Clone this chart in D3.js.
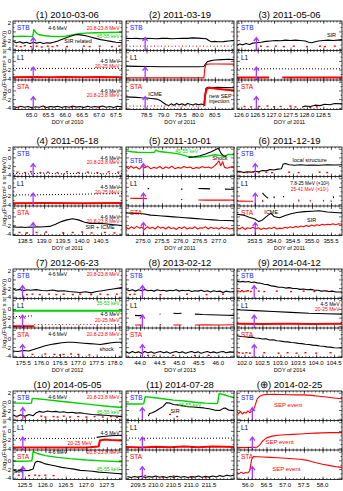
<!DOCTYPE html>
<html>
<head>
<meta charset="utf-8">
<script src="https://cdn.jsdelivr.net/npm/d3@7"></script>
<style>
  body { margin: 0; background: #fff; }
  svg { display: block; font-family: "Liberation Sans", Arial, sans-serif; }
</style>
</head>
<body>
<svg id="chart" width="343" height="491"></svg>
<script>
// ---- panel meta ----
const dates   = ['(1) 2010-03-06', '(2) 2011-03-19', '(3) 2011-05-06', '(4) 2011-05-18', '(5) 2011-10-01', '(6) 2011-12-19',
                 '(7) 2012-06-23', '(8) 2013-02-12', '(9) 2014-04-12', '(10) 2014-05-05', '(11) 2014-07-28', '(\u2295) 2014-02-25'];
const years   = [2010, 2011, 2011, 2011, 2011, 2011, 2012, 2013, 2014, 2014, 2014, 2014];
const xDomains = [[64.45, 67.68], [77.9, 81.06], [125.87, 129.07], [138.18, 141.05], [274.55, 277.4], [353.03, 355.79],
                  [175.22, 178.19], [43.64, 46.4], [101.79, 104.72], [125.21, 127.87], [209.16, 212.2], [55.71, 58.52]];
const xTicks = [
  [65.0, 65.5, 66.0, 66.5, 67.0, 67.5], [78.5, 79.0, 79.5, 80.0, 80.5], [126.0, 126.5, 127.0, 127.5, 128.0, 128.5],
  [138.5, 139.0, 139.5, 140.0, 140.5], [275.0, 275.5, 276.0, 276.5, 277.0], [353.5, 354.0, 354.5, 355.0, 355.5],
  [175.5, 176.0, 176.5, 177.0, 177.5, 178.0], [44.0, 44.5, 45.0, 45.5, 46.0], [102.0, 102.5, 103.0, 103.5, 104.0, 104.5],
  [125.5, 126.0, 126.5, 127.0, 127.5], [209.5, 210.0, 210.5, 211.0, 211.5], [56.0, 56.5, 57.0, 57.5, 58.0]];
const evTimes = [65.05, 78.46, 126.46, 138.71, 275.01, 353.51, 175.48, 44.06, 102.27, 125.45, 209.62, 56.12];
const yTicksStb = [2, 0, -2, -4];
const yTicksOther = [0, -2, -4];

// ---- (1) 2010-03-06 ----
const p1StbG = [[64.45,-1.2],[64.7,-1.1],[64.9,-1.15],[65.03,-1.2],[65.07,0.4],[65.12,-0.2],[65.2,-0.7],[65.35,-0.95],[65.55,-1.1],[65.8,-1.2],[66.0,-1.1],[66.2,-0.8],[66.4,-0.55],[66.6,-0.4],[66.9,-0.3],[67.2,-0.25],[67.68,-0.2]];
const p1StbK = [[64.46,-2.3],[64.55,-2.6],[64.65,-2.4],[64.75,-2.7],[64.85,-2.5],[64.95,-2.8],[65.05,-2.5],[65.15,-2.7],[65.25,-2.5],[65.35,-2.8],[65.45,-2.6],[65.55,-2.7],[65.65,-2.5],[65.75,-2.3],[65.85,-2.0],[65.95,-1.7],[66.05,-1.4],[66.15,-1.1],[66.25,-0.9],[66.35,-0.7],[66.45,-0.8],[66.6,-1.0],[66.75,-1.3],[66.9,-1.6],[67.05,-1.9],[67.2,-2.1],[67.35,-2.3],[67.5,-2.5],[67.68,-2.6]];
const p1StbR = [[64.55,-3.4],[64.68,-3.5],[64.8,-3.3],[64.98,-3.5],[65.15,-3.4],[65.3,-3.6],[65.48,-3.4],[65.62,-3.5],[65.76,-3.3],[66.05,-3.5],[66.55,-3.4],[66.72,-3.5],[67.02,-3.4],[67.38,-3.5],[67.6,-3.4]];
const p1L1K  = [[64.45,-1.75],[65.0,-1.7],[65.5,-1.75],[66.0,-1.7],[66.5,-1.75],[67.0,-1.7],[67.68,-1.75]];
const p1L1R  = [[64.45,-3.75],[65.0,-3.7],[65.5,-3.75],[66.0,-3.7],[66.5,-3.75],[67.0,-3.7],[67.68,-3.75]];
const p1StaK = [[64.46,-3.7],[64.57,-3.95],[64.68,-3.65],[64.79,-3.9],[64.9,-3.7],[65.01,-4.0],[65.12,-3.75],[65.23,-3.9],[65.34,-3.6],[65.45,-3.95],[65.56,-3.7],[65.67,-3.85],[65.78,-3.65],[65.89,-3.95],[66.0,-3.7],[66.11,-3.9],[66.22,-3.6],[66.33,-3.85],[66.44,-3.7],[66.55,-3.95],[66.66,-3.65],[66.77,-3.9],[66.88,-3.7],[66.99,-3.85],[67.1,-3.6],[67.21,-3.9],[67.32,-3.7],[67.43,-3.95],[67.54,-3.65],[67.68,-3.8]];
const p1StaR = [[64.6,-3.95],[65.4,-4.0],[66.2,-3.95],[67.0,-4.0]];

// ---- (2) 2011-03-19 ----
const p2StbK = [[77.9,-1.6],[78.05,-1.65],[78.2,-1.6],[78.35,-1.7],[78.5,-1.6],[78.65,-1.65],[78.8,-1.7],[78.95,-1.6],[79.1,-1.6],[79.25,-1.7],[79.4,-1.65],[79.55,-1.6],[79.7,-1.6],[79.85,-1.5],[80.0,-1.55],[80.1,-1.6],[80.25,-1.7],[80.32,-2.1],[80.4,-2.4],[80.5,-2.3],[80.6,-2.4],[80.75,-2.35],[80.9,-2.2],[81.06,-2.1]];
const p2StbRd = [[77.9,-3.4],[81.06,-3.4]];
const p2L1K  = [[77.9,-1.2],[78.2,-1.25],[78.5,-1.3],[79.0,-1.35],[79.5,-1.35],[80.0,-1.35],[80.18,-1.3],[80.22,-0.8],[80.28,-0.2],[80.35,0.0],[80.5,0.2],[80.7,0.3],[80.9,0.4],[81.06,0.3]];
const p2L1R  = [[77.9,-3.9],[78.5,-3.9],[79.5,-3.9],[80.18,-3.9],[80.2,-2.0],[80.24,-0.8],[80.35,-0.7],[80.6,-0.7],[81.06,-0.75]];
const p2StaK = [[77.9,-1.5],[78.05,-1.55],[78.2,-1.6],[78.35,-1.7],[78.5,-1.75],[78.65,-1.85],[78.8,-2.0],[78.9,-2.3],[79.0,-2.9],[79.08,-3.3],[79.15,-3.5],[79.22,-3.1],[79.3,-3.4],[79.38,-3.0],[79.46,-3.3],[79.54,-3.1],[79.62,-3.4],[79.7,-3.0],[79.78,-3.2],[79.86,-3.35],[79.94,-3.1],[80.02,-3.3],[80.1,-3.15],[80.18,-3.3],[80.21,-1.0],[80.24,0.5],[80.3,0.7],[80.45,0.65],[80.6,0.7],[80.8,0.65],[81.06,0.6]];
const p2StaRd = [[77.9,-3.6],[80.19,-3.6]];
const p2StaR = [[80.19,-3.6],[80.22,-1.0],[80.26,0.3],[80.32,0.6],[80.45,0.5],[80.6,0.35],[80.75,0.2],[80.9,0.1],[81.06,0.0]];

// ---- (3) 2011-05-06 ----
const p3StbK = [[125.87,-3.2],[125.95,-2.9],[126.05,-3.1],[126.15,-2.8],[126.25,-3.0],[126.35,-2.7],[126.45,-2.6],[126.6,-2.5],[126.75,-2.3],[126.9,-2.2],[127.05,-2.1],[127.2,-2.15],[127.35,-2.0],[127.5,-2.1],[127.65,-2.0],[127.8,-2.1],[127.95,-2.2],[128.05,-2.5],[128.15,-2.6],[128.25,-2.4],[128.35,-2.2],[128.5,-2.1],[128.65,-2.0],[128.8,-2.1],[128.95,-2.0],[129.07,-1.9]];
const p3StbR = [[126.6,-3.4],[126.8,-3.5],[127.05,-3.4],[127.3,-3.5],[127.6,-3.4],[128.0,-3.5],[128.4,-3.4],[128.55,-3.5],[128.85,-3.4]];
const p3L1K  = [[125.87,-1.8],[126.5,-1.85],[127.0,-1.8],[127.5,-1.85],[128.0,-1.8],[128.5,-1.85],[129.07,-1.8]];
const p3L1R  = [[125.87,-3.85],[126.3,-3.85],[126.85,-3.85],null,[127.25,-3.85],[127.8,-3.85],[128.4,-3.85],[129.07,-3.85]];
const p3StaK = [[127.85,-3.9],[127.95,-3.6],[128.1,-3.7],[128.25,-3.4],[128.4,-3.5],[128.55,-3.2],[128.7,-3.3],[128.85,-3.0],[129.07,-3.1]];
const p3StaR = [[126.1,-3.7],[126.3,-3.8],[126.55,-3.7],[126.8,-3.6],[127.0,-3.8],[127.2,-3.7],[127.5,-3.6],[127.65,-3.8],[128.1,-3.9],[128.3,-3.8]];

// ---- (4) 2011-05-18 ----
const p4StbK = [[138.18,-3.7],[138.6,-3.8],[139.0,-3.6],[139.4,-3.8],[139.8,-3.7],[140.2,-3.6],[140.6,-3.8],[141.05,-3.7]];
const p4StbR = [[138.3,-3.4],[138.5,-3.5],[138.65,-3.3],[138.9,-3.5],[139.1,-3.4],[139.35,-3.5],[139.6,-3.3],[139.9,-3.5],[140.15,-3.4],[140.4,-3.5],[140.7,-3.3],[140.95,-3.4]];
const p4L1K  = [[138.18,-1.85],[139.0,-1.8],[139.8,-1.7],[140.5,-1.6],[141.05,-1.55]];
const p4L1R  = [[138.18,-3.75],[139.0,-3.7],[140.0,-3.75],[141.05,-3.7]];
const p4StaK = [[138.18,-2.4],[138.3,-2.5],[138.4,-2.45],[138.5,-2.55],[138.6,-2.45],[138.7,-2.5],[138.8,-2.4],[138.9,-2.45],[139.0,-2.4],[139.15,-2.3],[139.3,-1.8],[139.45,-1.2],[139.6,-0.8],[139.75,-0.55],[139.9,-0.8],[140.05,-1.3],[140.2,-1.6],[140.4,-1.6],[140.6,-1.7],[140.8,-1.9],[141.05,-2.1]];
const p4StaR = [[138.35,-3.7],[138.55,-3.8],[138.8,-3.7],[139.05,-3.6],[139.5,-3.8],[139.75,-3.7],[140.0,-3.6],[140.25,-3.8],[140.6,-3.7],[140.85,-3.8]];

// ---- (5) 2011-10-01 ----
const p5StbG = [[274.55,1.5],[274.7,1.3],[274.85,1.2],[275.0,1.15],[275.2,1.1],[275.3,1.2],[275.34,1.7],[275.42,1.35],[275.6,1.2],[275.8,1.0],[276.0,0.7],[276.15,0.3],[276.3,0.05],[276.5,0.1],[276.7,0.3],[276.9,0.6],[277.05,0.4],[277.15,0.2],[277.25,0.7],[277.4,0.6]];
const p5StbK = [[276.2,0.0],[276.35,0.15],[276.5,0.4],[276.65,0.8],[276.8,1.3],[276.92,1.8],[276.98,2.1],[277.02,1.6],[277.06,0.9],[277.12,0.4],[277.2,0.3]];
const p5StbR = [[274.55,-2.2],[274.62,-2.6],[274.68,-2.0],[274.75,-2.5],[274.82,-2.2],[274.9,-2.7],[274.97,-2.1],[275.05,-2.4],[275.12,-2.0],[275.2,-2.6],[275.28,-2.3],[275.36,-2.5],[275.44,-2.1],[275.52,-2.6],[275.6,-2.2],[275.68,-2.5],[275.76,-2.0],[275.84,-2.6],[275.92,-2.3],[276.0,-2.5],[276.08,-2.1],[276.16,-2.4],[276.24,-2.2],[276.32,-2.6],[276.4,-2.3],[276.48,-2.5],[276.56,-2.1],[276.64,-2.4],[276.72,-2.2],[276.8,-2.5],[276.88,-2.0],[276.95,-1.4],[277.0,-0.8],[277.05,-1.9],[277.1,-1.0],[277.15,-2.3],[277.22,-2.5],[277.3,-2.2],[277.4,-2.4]];
const p5L1K  = [[275.12,-0.4],[275.16,-0.4],null,[276.0,-0.5],[276.04,-0.5],null,[276.46,-0.35],[276.6,-0.4],[276.77,-0.45],null,[277.16,-0.5],[277.3,-0.55],[277.4,-0.5]];
const p5L1R  = [[274.66,-2.6],[274.8,-2.65],[274.95,-2.6],[275.1,-2.7],null,[276.0,-2.9],[276.04,-2.9],null,[276.46,-3.0],[276.7,-3.05],[276.95,-3.0],[277.2,-3.05],[277.4,-3.0]];
const p5StaK = [[274.55,0.8],[274.7,0.75],[274.85,0.7],[275.0,0.6],[275.2,0.3],[275.35,0.2],[275.5,0.1],[275.65,0.0],[275.8,-0.1],[275.95,-0.2],[276.1,-0.3],[276.25,-0.4],[276.4,-0.5],[276.55,-0.6],[276.7,-0.7],[276.85,-0.8],[277.0,-0.9],[277.2,-0.95],[277.4,-1.0]];
const p5StaR = [[274.55,-2.5],[274.62,-2.9],[274.69,-2.4],[274.76,-2.8],[274.83,-2.3],[274.9,-2.7],[274.97,-2.5],[275.04,-3.0],[275.11,-2.4],[275.18,-2.8],[275.25,-2.5],[275.32,-2.9],[275.39,-2.3],[275.46,-2.7],[275.53,-2.5],[275.6,-2.9],[275.67,-2.4],[275.74,-2.8],[275.81,-2.6],[275.88,-3.0],[275.95,-2.5],[276.02,-2.8],[276.09,-2.4],[276.16,-2.9],[276.23,-2.6],[276.3,-2.8],[276.37,-2.4],[276.44,-2.9],[276.51,-2.6],[276.58,-2.7],[276.65,-2.4],[276.72,-2.9],[276.79,-2.5],[276.86,-2.8],[276.93,-2.6],[277.0,-2.9],[277.07,-2.5],[277.14,-2.8],[277.21,-2.6],[277.28,-2.9],[277.4,-2.7]];

// ---- (6) 2011-12-19 ----
const p6StbK = [[353.03,-3.4],[353.1,-3.2],[353.2,-3.5],[353.3,-3.3],[353.4,-3.4],[353.5,-3.2],[353.6,-3.3],[353.7,-3.0],[353.8,-3.1],[353.9,-2.8],[354.0,-2.9],[354.1,-2.7],[354.2,-2.6],[354.24,-1.6],[354.3,-1.4],[354.4,-1.7],[354.55,-1.8],[354.7,-1.7],[354.85,-1.8],[355.0,-1.75],[355.2,-1.8],[355.4,-1.7],[355.6,-1.75],[355.79,-1.7]];
const p6StbR = [[353.1,-3.4],[353.3,-3.5],[353.45,-3.4],[353.6,-3.5],[353.8,-3.4],[353.95,-3.5],[354.4,-3.4],[354.65,-3.5],[355.2,-3.4],[355.4,-3.5]];
const p6L1K  = [[353.7,-1.4],[353.75,-1.9],[353.8,-2.3],[353.85,-2.6],null,[354.0,-2.2],[354.01,-2.6],null,[354.25,-2.1],[354.26,-2.4],null,[355.56,-2.2],[355.57,-2.6]];
const p6L1R  = [[353.03,-3.3],[353.15,-3.25],[353.3,-3.3],[353.45,-3.3],null,[353.7,-3.0],[353.71,-3.5],null,[354.65,-2.9],[354.66,-3.4],null,[354.95,-3.0],[354.96,-3.4],null,[355.3,-3.0],[355.31,-3.4],null,[355.5,-3.1],[355.51,-3.5]];
const p6StaK = [[353.03,0.5],[353.2,0.3],[353.35,-0.2],[353.5,-0.6],[353.6,-1.2],[353.7,-0.8],[353.85,0.3],[353.93,0.7],[354.0,0.0],[354.15,-0.3],[354.3,0.2],[354.45,0.6],[354.6,0.9],[354.8,1.1],[355.0,1.2],[355.2,1.3],[355.4,1.0],[355.6,0.9],[355.79,0.8]];
const p6StaR = [[353.03,-2.6],[353.1,-2.9],[353.17,-2.5],[353.24,-3.0],[353.31,-2.6],[353.38,-2.8],[353.45,-2.5],[353.52,-2.9],[353.59,-2.6],[353.66,-3.0],[353.73,-2.7],[353.8,-2.9],[353.87,-2.6],[353.94,-2.8],[354.01,-2.5],[354.08,-2.9],[354.15,-2.7],[354.22,-2.8],[354.29,-2.5],[354.36,-2.7],[354.43,-2.4],[354.5,-2.6],[354.57,-2.3],[354.64,-2.5],[354.71,-2.2],[354.78,-2.4],[354.85,-2.1],[354.92,-2.3],[354.99,-2.0],[355.06,-2.2],[355.13,-1.9],[355.2,-2.1],[355.27,-1.8],[355.34,-2.0],[355.41,-1.8],[355.48,-1.9],[355.55,-1.7],[355.62,-1.9],[355.7,-1.7],[355.79,-1.8]];

// ---- (7) 2012-06-23 ----
const p7StbK = [[175.22,-2.2],[175.3,-2.5],[175.4,-2.3],[175.5,-2.6],[175.6,-2.4],[175.7,-2.5],[175.85,-2.35],[176.0,-2.55],[176.15,-2.6],[176.3,-2.45],[176.45,-2.7],[176.6,-2.6],[176.75,-2.8],[176.9,-2.9],[177.05,-3.0],[177.2,-2.85],[177.35,-3.1],[177.5,-2.8],[177.65,-2.6],[177.8,-2.4],[177.95,-2.2],[178.1,-2.0],[178.19,-1.9]];
const p7StbR = [[175.6,-3.5],[175.75,-3.4],[175.95,-3.5],[176.2,-3.4],[176.4,-3.5],[176.6,-3.4],[176.85,-3.5],[177.05,-3.4],[177.35,-3.5],[177.6,-3.4],[177.8,-3.5],[178.05,-3.4]];
const p7L1G  = [[175.22,-0.4],[175.7,-0.45],[176.2,-0.4],[176.7,-0.45],[177.2,-0.4],[177.7,-0.45],[178.19,-0.4]];
const p7L1K  = [[175.22,-1.8],[175.5,-1.7],[175.78,-1.6]];
const p7L1R  = [[175.22,-4.0],[175.5,-4.0],[175.8,-4.0]];
const p7L1Rd = [[175.8,-3.6],[176.5,-3.6],[177.2,-3.6],[178.19,-3.6]];
const p7StaK = [[175.22,-2.9],[175.35,-3.0],[175.5,-2.8],[175.65,-2.9],[175.8,-2.5],[175.95,-2.1],[176.1,-1.7],[176.25,-1.4],[176.4,-1.2],[176.55,-1.0],[176.7,-0.9],[176.85,-0.9],[177.0,-1.0],[177.15,-1.1],[177.3,-1.2],[177.45,-1.3],[177.6,-1.4],[177.75,-1.2],[177.9,-1.0],[178.05,-0.9],[178.19,-0.9]];
const p7StaR = [[175.75,-3.7],[176.1,-3.6],[176.35,-3.7],[176.5,-3.8],[176.6,-3.7],[176.8,-3.6],[177.0,-3.7],[177.3,-3.8]];

// ---- (8) 2013-02-12 ----
const p8StbK = [[43.64,-2.3],[43.72,-2.6],[43.8,-2.4],[43.88,-2.7],[43.96,-2.4],[44.04,-2.6],[44.12,-2.3],[44.2,-2.6],[44.28,-2.5],[44.36,-2.7],[44.44,-2.4],[44.52,-2.6],[44.6,-2.5],[44.68,-2.7],[44.76,-2.5],[44.84,-2.6],[44.92,-2.4],[45.0,-2.7],[45.08,-2.5],[45.16,-2.6],[45.24,-2.5],[45.32,-2.8],[45.4,-2.6],[45.48,-2.7],[45.56,-2.5],[45.64,-2.8],[45.72,-2.6],[45.8,-2.9],[45.88,-2.6],[45.96,-2.8],[46.04,-2.7],[46.12,-3.0],[46.2,-2.7],[46.3,-2.9],[46.4,-2.8]];
const p8StbR = [[43.74,-3.5],[43.86,-3.4],[44.52,-3.5],[45.2,-3.4],[45.7,-3.5],[46.12,-3.4]];
const p8L1K  = [[43.87,-1.5],[43.95,-1.55],[44.08,-1.5],null,[44.5,-1.2],[44.52,-1.25],null,[44.85,-1.0],[44.95,-1.05],[45.06,-1.0],null,[45.4,-1.2],[45.6,-1.3],[45.8,-1.35],[46.0,-1.4],[46.2,-1.45],[46.4,-1.5]];
const p8L1R  = [[43.87,-3.7],[44.08,-3.7],null,[44.5,-3.6],[44.53,-3.6],null,[44.85,-3.7],[45.06,-3.7],null,[45.4,-3.7],[45.7,-3.65],[46.0,-3.7],[46.4,-3.65]];
const p8StaK = [[43.64,-3.1],[43.72,-3.4],[43.8,-3.0],[43.88,-3.3],[43.96,-3.1],[44.04,-3.4],[44.12,-3.0],[44.2,-3.3],[44.28,-3.1],[44.36,-3.4],[44.44,-3.2],[44.52,-3.0],[44.6,-3.3],[44.68,-3.1],[44.76,-3.4],[44.84,-3.2],[44.92,-3.0],[45.0,-3.3],[45.08,-3.1],[45.16,-3.4],[45.24,-3.2],[45.32,-3.0],[45.4,-3.3],[45.48,-3.1],[45.56,-3.4],[45.64,-3.2],[45.72,-3.0],[45.8,-3.3],[45.88,-3.1],[45.96,-3.35],[46.04,-3.15],[46.12,-3.0],[46.2,-3.3],[46.3,-3.1],[46.4,-3.2]];
const p8StaR = [[44.2,-3.9],[44.35,-3.95],[44.85,-3.9],[45.4,-3.95],[45.75,-3.9]];

// ---- (9) 2014-04-12 ----
const p9StbK = [[101.79,-0.4],[101.87,-0.6],[101.95,-0.45],[102.03,-0.6],[102.11,-0.5],[102.19,-0.7],[102.27,-0.6],[102.35,-0.8],[102.45,-0.9],[102.55,-1.1],[102.65,-1.2],[102.75,-1.5],[102.85,-1.6],[102.95,-1.8],[103.05,-1.8],[103.15,-2.0],[103.25,-1.9],[103.35,-2.1],[103.45,-2.1],[103.55,-2.3],[103.65,-2.2],[103.75,-2.4],[103.85,-2.3],[103.95,-2.5],[104.05,-2.5],[104.15,-2.7],[104.25,-2.6],[104.35,-2.8],[104.45,-2.7],[104.55,-2.9],[104.72,-2.9]];
const p9StbR = [[101.82,-2.7],[101.88,-2.8],[101.93,-2.6],[101.98,-2.8],[102.05,-2.7],[102.1,-2.6],[102.18,-2.8],[102.4,-2.7],[102.55,-2.8],[102.9,-2.7],[103.3,-2.8],[103.65,-2.7],[103.95,-2.8],[104.3,-2.7]];
const p9L1K  = [[101.79,-0.2],[102.3,-0.4],[102.8,-0.6],[103.3,-0.8],[103.8,-1.0],[104.3,-1.1],[104.72,-1.2]];
const p9L1R  = [[101.79,-3.4],[102.5,-3.45],[103.2,-3.4],[103.9,-3.45],[104.72,-3.4]];
const p9StaK = [[101.79,0.6],[101.9,0.45],[102.0,0.4],[102.1,0.25],[102.2,0.3],[102.3,0.1],[102.4,0.05],[102.5,-0.15],[102.6,-0.1],[102.7,-0.35],[102.8,-0.3],[102.9,-0.55],[103.0,-0.6],[103.1,-0.75],[103.2,-0.8],[103.3,-0.95],[103.4,-1.0],[103.5,-1.15],[103.6,-1.2],[103.7,-1.35],[103.8,-1.4],[103.9,-1.55],[104.0,-1.6],[104.1,-1.75],[104.2,-1.8],[104.3,-1.95],[104.4,-2.0],[104.5,-2.15],[104.72,-2.2]];
const p9StaR = [[101.85,-3.3],[101.95,-3.4],[102.05,-3.3],[102.15,-3.4],[102.55,-3.3],[102.95,-3.4],[103.2,-3.3],[103.45,-3.4],[103.7,-3.3],[104.0,-3.4],[104.4,-3.3]];

// ---- (10) 2014-05-05 ----
const p10StbG = [[125.21,-0.4],[125.4,-0.4],[125.6,-0.45],[125.66,-0.4],[125.68,0.7],[125.8,0.6],[126.0,0.4],[126.3,0.1],[126.6,-0.2],[126.9,-0.5],[127.2,-0.8],[127.5,-1.1],[127.87,-1.4]];
const p10StbK = [[125.22,-3.2],[125.3,-3.5],[125.4,-3.1],[125.5,-3.4],[125.6,-3.0],[125.7,-3.3],[125.78,-2.6],[125.85,-2.3],[125.95,-2.5],[126.05,-2.2],[126.15,-2.4],[126.25,-2.3],[126.35,-2.5],[126.45,-2.4],[126.55,-2.6],[126.65,-2.5],[126.75,-2.7],[126.85,-2.6],[126.95,-2.8],[127.05,-2.9],[127.15,-3.0],[127.3,-3.1],[127.45,-3.2],[127.6,-3.3],[127.75,-3.4],[127.87,-3.5]];
const p10StbR = [[125.3,-3.5],[125.5,-3.6],[125.9,-3.4],[126.0,-3.6],[126.2,-3.5],[126.3,-3.6],[126.45,-3.4],[126.6,-3.6],[126.8,-3.5],[127.0,-3.6],[127.2,-3.5],[127.4,-3.6],[127.6,-3.5],[127.75,-3.7]];
const p10L1K  = [[125.21,-1.75],[125.8,-1.7],[126.4,-1.75],[127.0,-1.7],[127.25,-1.65]];
const p10L1K2 = [[127.25,-1.5],[127.4,-1.3],[127.6,-1.1],[127.87,-1.0]];
const p10L1R  = [[125.21,-3.8],[125.8,-3.85],[126.4,-3.8],[127.0,-3.85],[127.3,-3.6],[127.33,-2.2],[127.45,-2.0],[127.6,-2.1],[127.87,-2.2]];
const p10StaG = [[125.21,-0.2],[125.4,-0.2],[125.6,-0.15],[125.67,-0.1],[125.7,2.0],[125.8,1.6],[126.0,1.1],[126.3,0.7],[126.6,0.4],[127.0,0.1],[127.4,-0.1],[127.87,-0.3]];
const p10StaK = [[125.22,-2.3],[125.3,-2.5],[125.4,-2.2],[125.5,-2.4],[125.6,-2.3],[125.7,-2.0],[125.75,-0.5],[125.8,-0.2],[125.9,-0.4],[126.0,-0.8],[126.1,-1.0],[126.25,-1.3],[126.4,-1.6],[126.55,-1.8],[126.7,-2.0],[126.85,-2.3],[127.0,-2.4],[127.15,-2.5],[127.3,-2.7],[127.45,-2.8],[127.6,-2.9],[127.75,-3.0],[127.87,-3.1]];
const p10StaR = [[125.35,-3.4],[125.6,-3.5],[125.75,-3.4],[125.85,-3.5],[126.0,-3.4],[126.2,-3.5]];

// ---- (11) 2014-07-28 ----
const p11StbG = [[209.16,-0.6],[209.4,-0.6],[209.6,-0.6],[209.66,-0.5],[209.7,1.1],[209.9,0.9],[210.2,0.6],[210.5,0.3],[210.8,0.1],[211.1,-0.2],[211.4,-0.4],[211.7,-0.5],[211.74,-0.4],[211.78,1.8],[211.9,1.6],[212.05,1.2],[212.2,0.9]];
const p11StbK = [[209.79,-3.4],[209.82,-2.8],[209.9,-2.6],[210.0,-2.2],[210.1,-1.7],[210.2,-1.2],[210.3,-0.3],[210.4,-0.4],[210.5,-0.7],[210.6,-0.8],[210.75,-1.0],[210.9,-1.2],[211.05,-1.3],[211.2,-1.4],[211.35,-1.5],[211.5,-1.7],[211.65,-2.0],[211.8,-2.1],[211.9,-1.6],[211.95,-1.5],[212.05,-2.0],[212.2,-2.1]];
const p11StbR = [[210.4,-3.0],[210.6,-3.5]];
const p11L1K  = [[209.16,-1.65],[209.8,-1.7],[210.5,-1.65],[211.2,-1.7],[212.2,-1.65]];
const p11L1R  = [[209.16,-3.7],[209.6,-3.8],[210.0,-3.65],[210.4,-3.75],[210.8,-3.6],[211.2,-3.75],[211.6,-3.6],[212.2,-3.7]];
const p11StaK = [[209.2,-3.7],[209.3,-3.95],[209.4,-3.7],[209.5,-3.9],[209.6,-3.65],[209.7,-3.95],[209.8,-3.7],[209.9,-3.85],[210.0,-3.6],[210.1,-3.9],[210.2,-3.7],[210.3,-3.95],[210.4,-3.7],[210.5,-3.85],[210.6,-3.65],[210.7,-3.9],[210.8,-3.7],[210.9,-3.95],[211.0,-3.7],[211.1,-3.85],[211.2,-3.6],[211.3,-3.9],[211.4,-3.65],[211.5,-3.85],[211.6,-3.6],[211.7,-3.8],[211.8,-3.5],[211.9,-3.7],[212.0,-3.4],[212.1,-3.6],[212.2,-3.4]];
const p11StaR = [[209.5,-3.9],[209.7,-3.5],[210.2,-3.95],[210.5,-3.6],[211.0,-3.9],[211.4,-3.95]];

// ---- (12) 2014-02-25 ----
const p12StbR = [[55.71,-2.4],[55.76,-2.8],[55.8,-2.3],[55.85,-2.9],[55.9,-2.5],[55.95,-2.7],[56.0,-2.2],[56.05,-2.6],[56.1,-2.3],[56.15,-2.0],[56.2,-0.8],[56.25,0.6],[56.32,1.2],[56.4,1.5],[56.5,1.6],[56.7,1.65],[56.9,1.6],[57.1,1.55],[57.3,1.5],[57.5,1.5],[57.7,1.4],[57.9,1.2],[58.1,1.0],[58.3,0.8],[58.52,0.6]];
const p12L1R  = [[55.71,-3.8],[55.9,-3.85],[56.1,-3.8],[56.25,-3.75],[56.32,-3.2],[56.4,-2.3],[56.5,-1.6],[56.65,-1.2],[56.8,-1.0],[57.0,-0.9],[57.2,-0.8],[57.4,-0.7],[57.6,-0.6],[57.8,-0.5],[58.0,-0.45],[58.2,-0.4],[58.52,-0.4]];
const p12StaR = [[55.71,-2.8],[55.76,-3.1],[55.82,-2.7],[55.88,-3.0],[55.94,-2.8],[56.0,-2.9],[56.05,-2.4],[56.1,0.2],[56.15,0.9],[56.25,0.85],[56.4,0.8],[56.6,0.7],[56.8,0.6],[57.0,0.5],[57.2,0.4],[57.4,0.25],[57.6,0.0],[57.8,-0.5],[58.0,-0.9],[58.2,-1.2],[58.4,-1.5],[58.52,-1.6]];

// ---- style / layout ----
const RED = '#ff0000', GRN = '#00d000', BLU = '#1a1aff', PUR = '#a33cff';
const STY = {
  k:  { c: '#000', w: 1.1 },
  kd: { c: '#000', w: 1, dash: '1,2' },
  r:  { c: RED, w: 1.1 },
  rt: { c: RED, w: 2 },
  rd: { c: RED, w: 1, dash: '1,2.5' },
  g:  { c: GRN, w: 1.4 },
  gt: { c: GRN, w: 2 }
};
const cols = [{ x: 13, w: 109 }, { x: 126, w: 108 }, { x: 237, w: 105 }];
const rows = [21, 147, 269, 391];
const SUBH = 29.5;
const yDom = [-4.4, 2.4];

const E46 = '4-6 MeV', E208 = '20.8-23.8 MeV', E45 = '4-5 MeV', E2025 = '20-25 MeV', EK = '45-55 keV';
const L = (t, c, x, y, a = 'middle', s = 5) => ({ t, c, x, y, a, s });
const inl = (y = 0.5, c1 = E46, c2 = E208) => [L(c1, '#000', 'C', y), L(c2, RED, 'R', y, 'end')];
const stk = (a = E46, b = E208, y1 = -0.5, y2 = -1.6) => [L(a, '#000', 'R', y1, 'end'), L(b, RED, 'R', y2, 'end')];

const subsByPanel = [
  [ { ser: [['g', p1StbG], ['k', p1StbK], ['rp', p1StbR]],
      lab: [...inl(0.4), L(EK, GRN, 'R', -1.5, 'end'), L('SIR related', '#000', 66.38, -2.7, 'middle', 5.5)] },
    { ser: [['kd', p1L1K], ['rt', p1L1R]], lab: stk(E45, E2025) },
    { ser: [['k', p1StaK], ['rp', p1StaR]], lab: stk() } ],
  [ { ser: [['k', p2StbK], ['rd', p2StbRd]], lab: [] },
    { ser: [['k', p2L1K], ['r', p2L1R]], lab: [] },
    { ser: [['k', p2StaK], ['rd', p2StaRd], ['rt', p2StaR]],
      lab: [L('ICME', '#000', 78.75, -1.2, 'middle', 5.5), L('new SEP', '#000', 80.33, -1.8, 'start', 5.5), L('injection', '#000', 80.33, -2.9, 'start', 5.5)] } ],
  [ { ser: [['k', p3StbK], ['rp', p3StbR]], lab: [L('SIR', '#000', 128.75, -1.4, 'middle', 5.5)] },
    { ser: [['kd', p3L1K], ['rt', p3L1R]], lab: [] },
    { ser: [['rp', p3StaR], ['k', p3StaK]], lab: [] } ],
  [ { ser: [['kd', p4StbK], ['rp', p4StbR]], lab: stk() },
    { ser: [['kd', p4L1K], ['rt', p4L1R]], lab: stk(E45, E2025) },
    { ser: [['k', p4StaK], ['rp', p4StaR]], lab: [...stk(), L('SIR + ICME', '#000', 140.47, -2.8, 'middle', 5.5)] } ],
  [ { ser: [['g', p5StbG], ['k', p5StbK], ['r', p5StbR]], name: -1.2,
      lab: [L(EK, GRN, 276.15, 1.0), L('Shock', '#000', 277.03, -0.5, 'middle', 5.5)] },
    { ser: [['k', p5L1K], ['r', p5L1R]], lab: [] },
    { ser: [['k', p5StaK], ['r', p5StaR]], lab: [] } ],
  [ { ser: [['k', p6StbK], ['rp', p6StbR]], lab: [L('local structure', '#000', 354.94, -1.0, 'middle', 5.5)] },
    { ser: [['k', p6L1K], ['r', p6L1R]],
      lab: [L('7.8-25 MeV (\u00d710\u00b2)', '#000', 354.94, 0.5, 'middle', 4.8), L('25-41 MeV (\u00d710\u00b9)', RED, 354.94, -0.95, 'middle', 4.8)] },
    { ser: [['r', p6StaR], ['k', p6StaK]],
      lab: [L('ICME', '#000', 353.93, 0.6, 'middle', 5.5), L('SIR', '#000', 354.99, -1.4, 'middle', 5.5)] } ],
  [ { ser: [['k', p7StbK], ['rp', p7StbR]], lab: inl(0.9) },
    { ser: [['gt', p7L1G], ['kd', p7L1K], ['rt', p7L1R], ['rd', p7L1Rd]],
      lab: [L('35-53 keV', GRN, 'R', 0.9, 'end'), L(E45, '#000', 'R', -1.7, 'end'), L(E2025, RED, 'R', -3.0, 'end')] },
    { ser: [['k', p7StaK], ['rp', p7StaR]], lab: [...inl(0.6), L('shock', '#000', 177.77, -2.9, 'middle', 5.5)] } ],
  [ { ser: [['k', p8StbK], ['rp', p8StbR]], lab: [] },
    { ser: [['k', p8L1K], ['r', p8L1R]], lab: [] },
    { ser: [['k', p8StaK], ['rp', p8StaR]], lab: [] } ],
  [ { ser: [['k', p9StbK], ['rp', p9StbR]], lab: [] },
    { ser: [['k', p9L1K], ['rt', p9L1R]], lab: stk(E45, E2025, 0.6, -0.5) },
    { ser: [['k', p9StaK], ['rp', p9StaR]], lab: [] } ],
  [ { ser: [['g', p10StbG], ['k', p10StbK], ['rp', p10StbR]], lab: [...inl(0.5), L(EK, GRN, 'R', -3.0, 'end')] },
    { ser: [['kd', p10L1K], ['k', p10L1K2], ['rt', p10L1R]],
      lab: [L(E45, '#000', 'R', -0.9, 'end'), L(E2025, RED, 126.84, -3.2)] },
    { ser: [['g', p10StaG], ['k', p10StaK], ['rp', p10StaR]],
      lab: [...inl(1.4), L(EK, GRN, 'R', -2.5, 'end'), L('SIR', '#000', 125.23, -2.9, 'start', 5.5)] } ],
  [ { ser: [['g', p11StbG], ['k', p11StbK], ['rp', p11StbR]],
      lab: [L(EK, GRN, 210.96, -1.2), L('SIR', '#000', 210.54, -2.7, 'middle', 5.5)] },
    { ser: [['kd', p11L1K], ['rt', p11L1R]], lab: [] },
    { ser: [['k', p11StaK], ['rp', p11StaR]], lab: [] } ],
  [ { ser: [['r', p12StbR]], lab: [L('SEP event', RED, 56.7, -1.2, 'start', 6)] },
    { ser: [['r', p12L1R]], lab: [L('SEP event', RED, 56.85, -3.1, 'middle', 6)] },
    { ser: [['r', p12StaR]], lab: [L('SEP event', RED, 57.03, -2.5, 'middle', 6)] } ]
];

const subNames = [['STB', BLU], ['L1', '#000'], ['STA', RED]];

// ---- draw ----
const svg = d3.select('#chart');
const defs = svg.append('defs');
const H = +svg.attr('height');

const tickAxis = (gen, ty, tx) => {
  const a = svg.append('g').attr('transform', `translate(${tx || 0},${ty || 0})`).call(gen);
  a.select('.domain').remove();
  a.selectAll('line').attr('stroke-width', 0.6);
  a.attr('font-size', 6).attr('font-family', null);
  return a;
};

subsByPanel.forEach((subs, i) => {
  const c = cols[i % 3], top = rows[Math.floor(i / 3)];
  const x = d3.scaleLinear().domain(xDomains[i]).range([c.x, c.x + c.w]);
  const minor = x.ticks(30);
  const posX = v => v === 'C' ? c.x + c.w * 0.41 : v === 'R' ? c.x + c.w - 2.5 : v === 'L' ? c.x + 4 : x(v);

  subs.forEach((s, j) => {
    const y0 = top + j * SUBH;
    const y = d3.scaleLinear().domain(yDom).range([y0 + SUBH, y0]);
    const id = `clip${i}_${j}`;
    defs.append('clipPath').attr('id', id)
      .append('rect').attr('x', c.x).attr('y', y0).attr('width', c.w).attr('height', SUBH);
    const g = svg.append('g').attr('clip-path', `url(#${id})`);
    const line = d3.line().defined(d => d).x(d => x(d[0])).y(d => y(d[1]));

    s.ser.forEach(([t, data]) => {
      if (t === 'rp') {
        g.append('g').selectAll('rect').data(data).join('rect')
          .attr('x', d => x(d[0]) - 1).attr('y', d => y(d[1]) - 0.7)
          .attr('width', 2).attr('height', 1.4).attr('fill', RED);
      } else {
        const st = STY[t];
        g.append('path').datum(data).attr('d', line)
          .attr('fill', 'none').attr('stroke', st.c).attr('stroke-width', st.w)
          .attr('stroke-dasharray', st.dash || null).attr('stroke-linejoin', 'round');
      }
    });

    // event arrow
    const ax = x(evTimes[i]), ab = y0 + SUBH, at = ab - 13;
    g.append('path')
      .attr('d', `M${ax},${ab}V${at}M${ax - 2.6},${at + 3.6}L${ax},${at}L${ax + 2.6},${at + 3.6}`)
      .attr('fill', 'none').attr('stroke', PUR).attr('stroke-width', 1.3);

    // ticks
    tickAxis(d3.axisBottom(x).tickValues(xTicks[i]).tickSize(-3).tickFormat(''), y0 + SUBH);
    tickAxis(d3.axisTop(x).tickValues(xTicks[i]).tickSize(-3).tickFormat(''), y0);
    tickAxis(d3.axisBottom(x).tickValues(minor).tickSize(-1.5).tickFormat(''), y0 + SUBH);
    tickAxis(d3.axisTop(x).tickValues(minor).tickSize(-1.5).tickFormat(''), y0);
    const labelled = j === 0 ? yTicksStb : yTicksOther;
    tickAxis(d3.axisLeft(y).tickValues(yTicksStb).tickSize(-3).tickPadding(2)
      .tickFormat(d => (i % 3 === 0 && labelled.includes(d)) ? String(d) : ''), 0, c.x);
    tickAxis(d3.axisRight(y).tickValues(yTicksStb).tickSize(-3).tickFormat(''), 0, c.x + c.w);
    tickAxis(d3.axisLeft(y).tickValues([-3, -1, 1]).tickSize(-1.5).tickFormat(''), 0, c.x);
    tickAxis(d3.axisRight(y).tickValues([-3, -1, 1]).tickSize(-1.5).tickFormat(''), 0, c.x + c.w);

    // labels
    svg.append('text').attr('x', c.x + 4).attr('y', y(s.name !== undefined ? s.name : 0.3))
      .attr('font-size', 6.5).attr('fill', subNames[j][1]).text(subNames[j][0]);
    s.lab.forEach(l => {
      svg.append('text').attr('x', posX(l.x)).attr('y', y(l.y))
        .attr('text-anchor', l.a).attr('font-size', l.s).attr('fill', l.c).text(l.t);
    });
  });

  // frame and separators
  const bot = top + 3 * SUBH;
  svg.append('rect').attr('x', c.x).attr('y', top).attr('width', c.w).attr('height', 3 * SUBH)
    .attr('fill', 'none').attr('stroke', '#000').attr('stroke-width', 0.8);
  [1, 2].forEach(k => svg.append('line').attr('x1', c.x).attr('x2', c.x + c.w)
    .attr('y1', top + k * SUBH).attr('y2', top + k * SUBH).attr('stroke', '#000').attr('stroke-width', 0.8));

  // x tick labels, axis title (only where it fits on the page), panel title
  svg.append('g').selectAll('text').data(xTicks[i]).join('text')
    .attr('x', d => x(d)).attr('y', bot + 7.5).attr('text-anchor', 'middle')
    .attr('font-size', 6).text(d3.format('.1f'));
  if (bot + 15 < H) {
    svg.append('text').attr('x', c.x + c.w / 2).attr('y', bot + 14).attr('text-anchor', 'middle')
      .attr('font-size', 5.5).text('DOY of ' + years[i]);
  }
  svg.append('text').attr('x', c.x + c.w / 2).attr('y', top - 3).attr('text-anchor', 'middle')
    .attr('font-size', 9.5).text(dates[i]);
});

// y-axis titles
rows.forEach(top => {
  svg.append('text').attr('transform', `translate(4.5,${top + 1.5 * SUBH}) rotate(-90)`)
    .attr('text-anchor', 'middle').attr('dominant-baseline', 'middle')
    .attr('font-size', 6).text('log\u2081\u2080(Flux/(cm\u00b2 s sr MeV))');
});
</script>
</body>
</html>
